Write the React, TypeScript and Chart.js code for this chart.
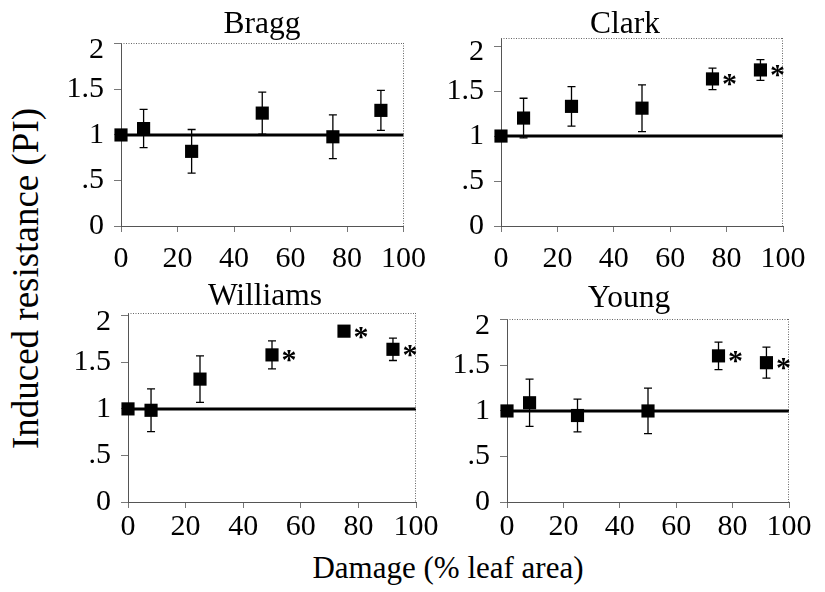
import { useEffect, useRef } from 'react';
import { Chart, registerables } from 'chart.js';

Chart.register(...registerables);

const FONT = '"Liberation Serif", "Times New Roman", Times, serif';

// ---- data ----
const damage = [0, 8, 25, 50, 75, 92];

const braggPI = [1.0, 1.07, 0.82, 1.24, 0.98, 1.27];
const braggErr = [0, 0.21, 0.24, 0.23, 0.24, 0.22];
const braggSig = [false, false, false, false, false, false];

const clarkPI = [1.0, 1.2, 1.33, 1.31, 1.635, 1.735];
const clarkErr = [0, 0.22, 0.22, 0.26, 0.12, 0.115];
const clarkSig = [false, false, false, false, true, true];

const williamsPI = [1.0, 0.985, 1.32, 1.58, 1.835, 1.64];
const williamsErr = [0, 0.23, 0.25, 0.15, 0, 0.12];
const williamsSig = [false, false, false, true, true, true];

const youngPI = [1.0, 1.09, 0.95, 1.0, 1.605, 1.53];
const youngErr = [0, 0.26, 0.18, 0.25, 0.15, 0.17];
const youngSig = [false, false, false, false, true, true];

const panelNames = ['Bragg', 'Clark', 'Williams', 'Young'];
const referenceLevel = 1;
const sigMark = '*';

const xTicks = [0, 20, 40, 60, 80, 100];
const yTicks = [0, 0.5, 1, 1.5, 2];
const yTickLabels = ['0', '.5', '1', '1.5', '2'];

const xTitle = 'Damage (% leaf area)';
const yTitle = 'Induced resistance (PI)';

// ---- layout (positions / sizes only) ----
type Layout = {
  L: number; T: number; W: number; H: number;
  x1: number; x2: number; top: number; bottom: number;
  ymax: number; xpad: number; titleX: number; titleTop: number;
};

const layouts: Layout[] = [
  { L: 55, T: 0, W: 380, H: 280, x1: 121, x2: 408, top: 43, bottom: 226, ymax: 2.01, xpad: 9, titleX: 262, titleTop: 6.6 },
  { L: 432, T: 0, W: 393, H: 280, x1: 501, x2: 783, top: 38, bottom: 226, ymax: 2.09, xpad: 9, titleX: 625, titleTop: 6.6 },
  { L: 60, T: 272, W: 380, H: 278, x1: 128, x2: 416, top: 313, bottom: 502, ymax: 2.03, xpad: 1, titleX: 265, titleTop: 278.6 },
  { L: 440, T: 272, W: 385, H: 278, x1: 507, x2: 789, top: 319, bottom: 502, ymax: 2.01, xpad: 1, titleX: 629, titleTop: 280.6 },
];

const panelData = [
  { y: braggPI, err: braggErr, sig: braggSig },
  { y: clarkPI, err: clarkErr, sig: clarkSig },
  { y: williamsPI, err: williamsErr, sig: williamsSig },
  { y: youngPI, err: youngErr, sig: youngSig },
];

function makeOverlay(values: number[], err: number[], sig: boolean[]) {
  return {
    id: 'overlay',
    beforeDatasetsDraw(chart: any) {
      const { ctx, scales } = chart;
      const xs = scales.x;
      const ys = scales.y;
      ctx.save();
      ctx.strokeStyle = '#000';
      ctx.lineWidth = 1.3;
      for (let i = 0; i < values.length; i++) {
        const e = err[i];
        if (!e) continue;
        const px = xs.getPixelForValue(damage[i]);
        const pTop = ys.getPixelForValue(values[i] + e);
        const pBot = ys.getPixelForValue(values[i] - e);
        ctx.beginPath();
        ctx.moveTo(px, pTop);
        ctx.lineTo(px, pBot);
        ctx.moveTo(px - 4, pTop);
        ctx.lineTo(px + 4, pTop);
        ctx.moveTo(px - 4, pBot);
        ctx.lineTo(px + 4, pBot);
        ctx.stroke();
      }
      ctx.restore();
    },
    afterDatasetsDraw(chart: any) {
      const { ctx, scales, chartArea } = chart;
      const xs = scales.x;
      const ys = scales.y;
      ctx.save();
      ctx.strokeStyle = '#666';
      ctx.lineWidth = 1;
      ctx.setLineDash([1, 1.5]);
      ctx.beginPath();
      ctx.moveTo(chartArea.left, Math.round(chartArea.top) + 0.5);
      ctx.lineTo(chartArea.right, Math.round(chartArea.top) + 0.5);
      ctx.moveTo(Math.round(chartArea.right) - 0.5, chartArea.top);
      ctx.lineTo(Math.round(chartArea.right) - 0.5, chartArea.bottom);
      ctx.stroke();
      ctx.setLineDash([]);
      // significance asterisks, sized to ~13px glyph width
      ctx.fillStyle = '#000';
      ctx.font = `bold 30px ${FONT}`;
      const m0 = ctx.measureText(sigMark);
      const w0 = (m0.actualBoundingBoxLeft || 0) + (m0.actualBoundingBoxRight || 0) || 12;
      const size = Math.max(10, Math.min(60, (30 * 13) / w0));
      ctx.font = `bold ${size}px ${FONT}`;
      ctx.textAlign = 'center';
      ctx.textBaseline = 'alphabetic';
      const m = ctx.measureText(sigMark);
      const a = m.actualBoundingBoxAscent;
      const d = m.actualBoundingBoxDescent;
      const lft = m.actualBoundingBoxLeft || 0;
      const rgt = m.actualBoundingBoxRight || 0;
      for (let i = 0; i < values.length; i++) {
        if (!sig[i]) continue;
        const cx = xs.getPixelForValue(damage[i]) + 17;
        const cy = ys.getPixelForValue(values[i]) + 1.5;
        ctx.fillText(sigMark, cx - (rgt - lft) / 2, cy + (a - d) / 2);
      }
      ctx.restore();
    },
  };
}

function Panel({ idx }: { idx: number }) {
  const ref = useRef<HTMLCanvasElement | null>(null);
  const lay = layouts[idx];
  const pd = panelData[idx];

  useEffect(() => {
    if (!ref.current) return;
    const chart = new Chart(ref.current, {
      type: 'scatter',
      data: {
        datasets: [
          {
            label: panelNames[idx],
            data: damage.map((x, i) => ({ x, y: pd.y[i] })),
            pointStyle: 'rect',
            pointRadius: 9.3,
            pointBackgroundColor: '#000',
            pointBorderColor: '#000',
            pointBorderWidth: 0,
            showLine: false,
            clip: false,
            order: 0,
          } as any,
          {
            label: 'reference',
            type: 'line',
            data: [
              { x: xTicks[0], y: referenceLevel },
              { x: xTicks[xTicks.length - 1], y: referenceLevel },
            ],
            borderColor: '#000',
            borderWidth: 3,
            pointRadius: 0,
            clip: false,
            order: 1,
          } as any,
        ],
      },
      options: {
        animation: false,
        responsive: false,
        events: [],
        layout: {
          padding: {
            left: 0,
            top: lay.top - lay.T,
            right: lay.L + lay.W - lay.x2,
            bottom: 0,
          },
        },
        plugins: {
          legend: { display: false },
          tooltip: { enabled: false },
          title: { display: false },
        },
        scales: {
          x: {
            type: 'linear',
            min: xTicks[0],
            max: xTicks[xTicks.length - 1],
            afterBuildTicks: (s: any) => {
              s.ticks = xTicks.map((v) => ({ value: v }));
            },
            afterFit: (s: any) => {
              s.height = lay.T + lay.H - lay.bottom;
            },
            ticks: {
              font: { family: FONT, size: 30 },
              color: '#000',
              padding: lay.xpad,
              maxRotation: 0,
              minRotation: 0,
              autoSkip: false,
            },
            grid: {
              drawOnChartArea: false,
              drawTicks: true,
              tickLength: 6,
              color: '#777',
            },
            border: { display: true, color: '#555', width: 1 },
          },
          y: {
            type: 'linear',
            min: 0,
            max: lay.ymax,
            afterBuildTicks: (s: any) => {
              s.ticks = yTicks.map((v) => ({ value: v }));
            },
            afterFit: (s: any) => {
              s.width = lay.x1 - lay.L;
            },
            ticks: {
              font: { family: FONT, size: 30, lineHeight: 0.4 },
              color: '#000',
              padding: 10,
              autoSkip: false,
              callback: (v: any) => {
                const k = yTicks.indexOf(Number(v));
                if (k < 0) return '';
                // top label sits just below its tick, as in the original figure
                return k === yTicks.length - 1 ? ['', yTickLabels[k]] : yTickLabels[k];
              },
            },
            grid: {
              drawOnChartArea: false,
              drawTicks: true,
              tickLength: 7,
              color: '#777',
            },
            border: { display: true, color: '#555', width: 1 },
          },
        },
      } as any,
      plugins: [makeOverlay(pd.y, pd.err, pd.sig)],
    });
    let alive = true;
    const fonts = (document as any).fonts;
    if (fonts && fonts.load) {
      Promise.all([fonts.load(`30px ${FONT}`), fonts.load(`bold 30px ${FONT}`)])
        .catch(() => null)
        .then(() => {
          if (alive) chart.update();
        });
    }
    return () => {
      alive = false;
      chart.destroy();
    };
  }, [idx]);

  return (
    <>
      <canvas
        ref={ref}
        width={lay.W}
        height={lay.H}
        style={{ position: 'absolute', left: lay.L, top: lay.T, width: lay.W, height: lay.H }}
      />
      <div
        style={{
          position: 'absolute',
          left: lay.titleX - 150,
          top: lay.titleTop,
          width: 300,
          textAlign: 'center',
          fontFamily: FONT,
          fontSize: 31.5,
          lineHeight: 1,
          color: '#000',
          whiteSpace: 'nowrap',
        }}
      >
        {panelNames[idx]}
      </div>
    </>
  );
}

export default function App() {
  return (
    <div
      style={{
        position: 'absolute',
        left: 0,
        top: 0,
        width: 825,
        height: 592,
        background: '#fff',
        overflow: 'hidden',
      }}
    >
      {panelNames.map((_, i) => (
        <Panel key={i} idx={i} />
      ))}
      <div
        style={{
          position: 'absolute',
          left: 448 - 200,
          top: 552,
          width: 400,
          textAlign: 'center',
          fontFamily: FONT,
          fontSize: 31,
          lineHeight: 1,
          color: '#000',
          whiteSpace: 'nowrap',
        }}
      >
        {xTitle}
      </div>
      <div
        style={{
          position: 'absolute',
          left: 25 - 200,
          top: 278 - 18.5,
          width: 400,
          height: 37,
          textAlign: 'center',
          fontFamily: FONT,
          fontSize: 37,
          lineHeight: 1,
          color: '#000',
          whiteSpace: 'nowrap',
          transform: 'rotate(-90deg)',
        }}
      >
        {yTitle}
      </div>
    </div>
  );
}
